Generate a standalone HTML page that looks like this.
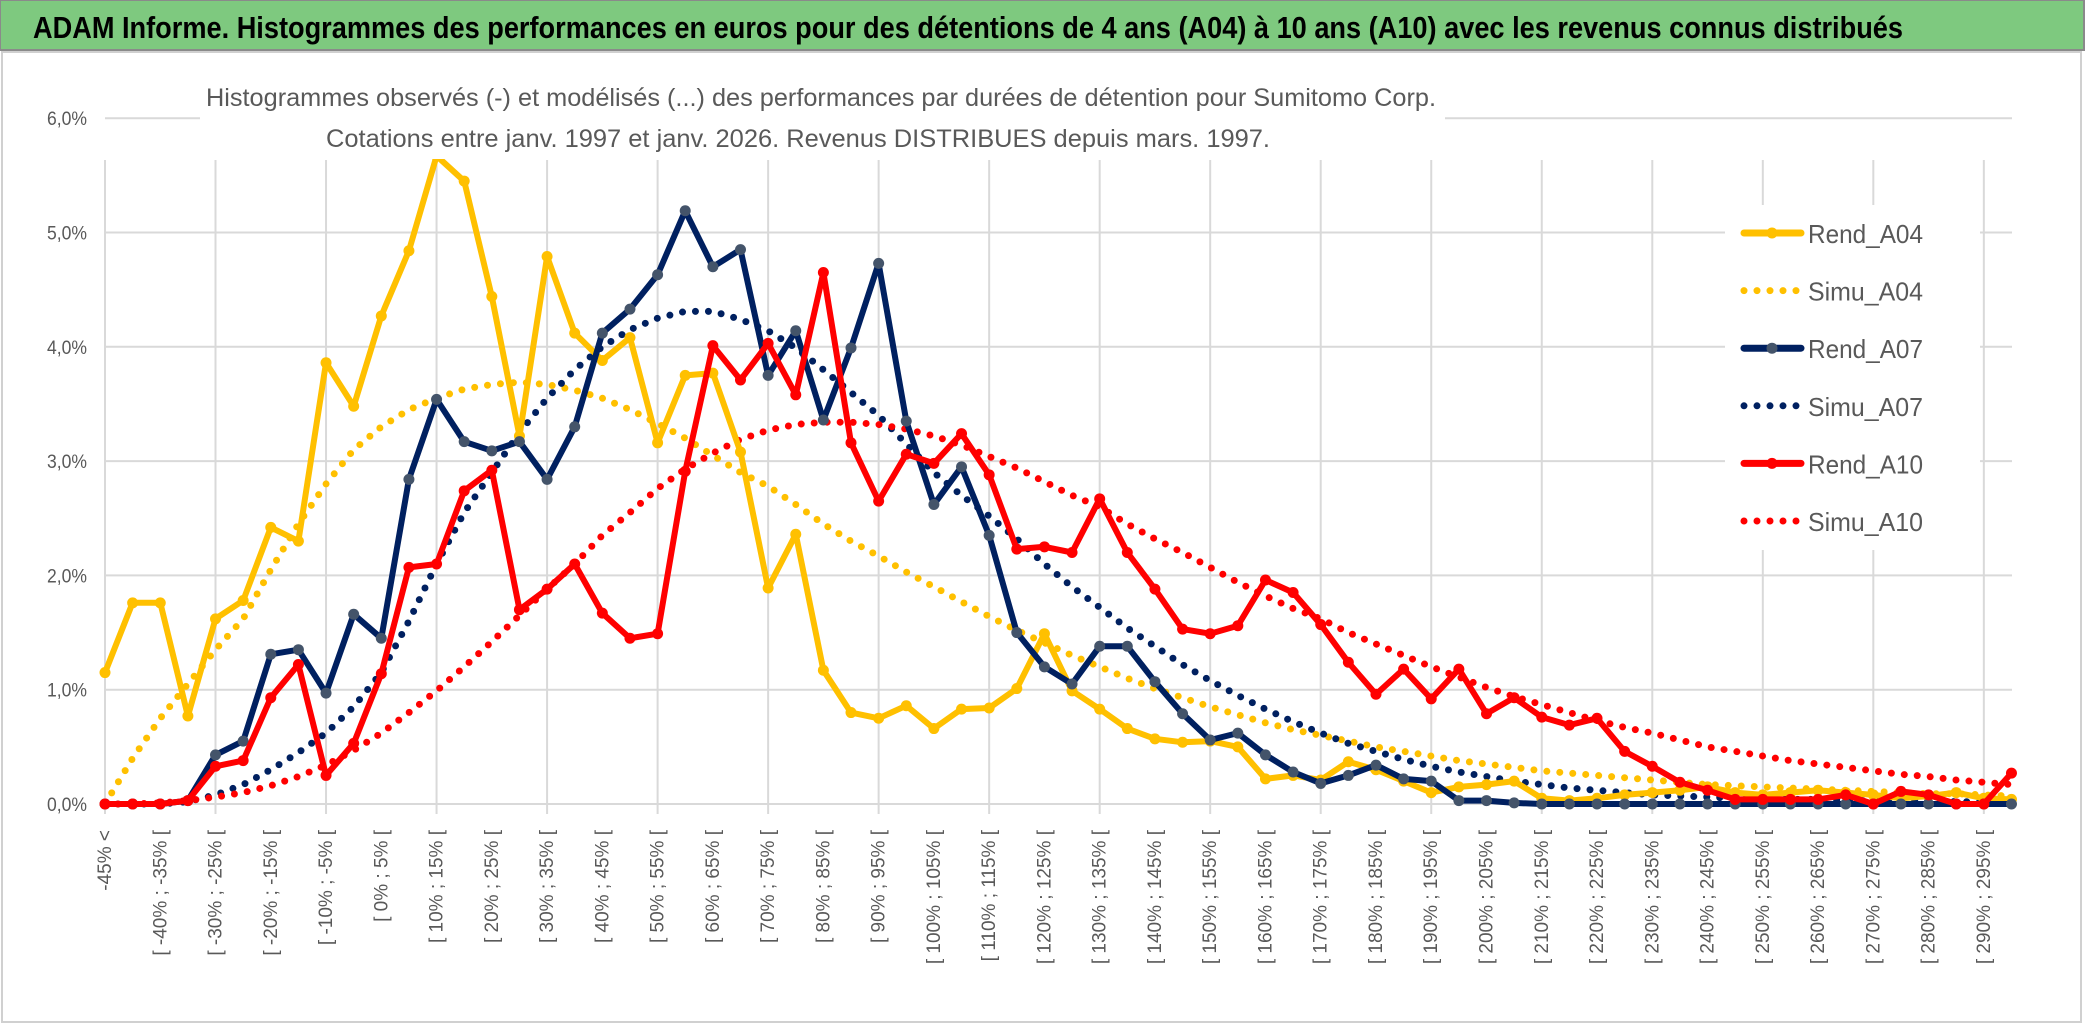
<!DOCTYPE html>
<html><head><meta charset="utf-8"><style>
html,body{margin:0;padding:0;background:#fff;}
svg{display:block;}
text{font-family:"Liberation Sans",sans-serif;}
</style></head><body>
<svg id="chart" width="2086" height="1031" viewBox="0 0 2086 1031" xmlns="http://www.w3.org/2000/svg">
<rect x="0" y="0" width="2086" height="1031" fill="#fff"/>
<rect x="2" y="52" width="2079" height="970" fill="#fff" stroke="#d0d0d0" stroke-width="2"/>
<rect x="0" y="0" width="2084" height="50" fill="#7ec97f" stroke="#8a8a8a" stroke-width="2"/>
<text x="33" y="38" font-size="31" font-weight="bold" fill="#000" textLength="1870" lengthAdjust="spacingAndGlyphs">ADAM Informe. Histogrammes des performances en euros pour des détentions de 4 ans (A04) à 10 ans (A10) avec les revenus connus distribués</text>
<g id="grid"></g>
<g id="series"></g>
<rect x="200" y="75" width="1245" height="84" fill="#fff"/>
<text x="206" y="106" font-size="25" fill="#595959" textLength="1230" lengthAdjust="spacingAndGlyphs">Histogrammes observés (-) et modélisés (...) des performances par durées de détention pour Sumitomo Corp.</text>
<text x="326" y="147" font-size="25" fill="#595959" textLength="944" lengthAdjust="spacingAndGlyphs">Cotations entre janv. 1997 et janv. 2026. Revenus DISTRIBUES depuis mars. 1997.</text>
<g id="legend"></g>
<g id="axes"></g>
</svg>
<script>
const rendA04 = [1.15,1.76,1.76,0.77,1.62,1.78,2.42,2.30,3.86,3.48,4.27,4.84,5.67,5.45,4.44,3.22,4.79,4.12,3.88,4.08,3.16,3.75,3.77,3.08,1.89,2.36,1.17,0.80,0.75,0.86,0.66,0.83,0.84,1.01,1.49,0.99,0.83,0.66,0.57,0.54,0.55,0.50,0.22,0.25,0.21,0.37,0.30,0.20,0.10,0.15,0.17,0.20,0.05,0.03,0.05,0.08,0.10,0.12,0.15,0.10,0.08,0.10,0.12,0.10,0.08,0.05,0.07,0.10,0.05,0.04];
const simuA04 = [0.0,0.40,0.75,1.05,1.35,1.62,2.05,2.45,2.80,3.10,3.30,3.45,3.55,3.63,3.67,3.69,3.67,3.62,3.55,3.45,3.33,3.20,3.05,2.90,2.78,2.62,2.45,2.30,2.17,2.03,1.90,1.77,1.64,1.52,1.41,1.30,1.20,1.10,1.01,0.93,0.85,0.78,0.71,0.65,0.60,0.55,0.50,0.46,0.42,0.38,0.35,0.32,0.29,0.27,0.25,0.23,0.21,0.19,0.17,0.16,0.15,0.14,0.13,0.12,0.11,0.10,0.09,0.09,0.08,0.07];
const rendA07 = [0,0,0,0.03,0.43,0.55,1.31,1.35,0.97,1.66,1.45,2.84,3.54,3.17,3.09,3.17,2.84,3.30,4.12,4.33,4.63,5.19,4.70,4.85,3.75,4.14,3.36,3.99,4.73,3.35,2.62,2.95,2.35,1.50,1.20,1.05,1.38,1.38,1.07,0.79,0.56,0.62,0.43,0.28,0.18,0.25,0.34,0.22,0.20,0.03,0.03,0.01,0,0,0,0,0,0,0,0,0,0,0,0,0,0,0,0,0,0];
const simuA07 = [0,0,0,0.02,0.08,0.17,0.30,0.45,0.62,0.85,1.15,1.60,2.10,2.55,2.90,3.25,3.55,3.80,4.00,4.15,4.25,4.31,4.31,4.24,4.14,3.99,3.80,3.60,3.40,3.15,2.90,2.70,2.52,2.32,2.10,1.90,1.72,1.54,1.38,1.22,1.08,0.95,0.83,0.72,0.62,0.53,0.46,0.39,0.33,0.28,0.24,0.20,0.17,0.14,0.12,0.10,0.08,0.07,0.06,0.05,0.04,0.04,0.04,0.03,0.03,0.03,0.03,0.02,0.02,0.02];
const rendA10 = [0,0,0,0.03,0.33,0.38,0.93,1.22,0.25,0.53,1.14,2.07,2.10,2.74,2.92,1.70,1.88,2.10,1.67,1.45,1.49,2.91,4.01,3.71,4.03,3.58,4.65,3.16,2.65,3.06,2.98,3.24,2.88,2.23,2.25,2.20,2.67,2.20,1.88,1.53,1.49,1.56,1.96,1.85,1.57,1.24,0.96,1.18,0.92,1.18,0.79,0.93,0.76,0.69,0.75,0.46,0.33,0.19,0.12,0.04,0.04,0.04,0.04,0.08,0,0.11,0.08,0,0,0.27];
const simuA10 = [0,0,0.01,0.03,0.06,0.10,0.16,0.24,0.34,0.47,0.62,0.80,0.99,1.20,1.42,1.65,1.88,2.10,2.35,2.55,2.76,2.93,3.07,3.19,3.27,3.32,3.34,3.34,3.32,3.28,3.22,3.14,3.04,2.94,2.82,2.70,2.60,2.45,2.32,2.20,2.07,1.94,1.82,1.71,1.62,1.50,1.40,1.30,1.20,1.11,1.02,0.94,0.87,0.80,0.73,0.67,0.62,0.56,0.50,0.46,0.42,0.38,0.35,0.32,0.29,0.26,0.24,0.21,0.19,0.17];
const yTicks = [0,1,2,3,4,5,6];
const yTickLabels = ["0,0%","1,0%","2,0%","3,0%","4,0%","5,0%","6,0%"];
const binLows = [];
for (let v = -45; v <= 295; v += 5) binLows.push(v);
const categories = ["-45% <"];
for (let i = 1; i < binLows.length; i++) categories.push("[ " + binLows[i-1] + "% ; " + binLows[i] + "% [");
categories.push("295% ≤");

const NS = "http://www.w3.org/2000/svg";
const X0 = 105, DX = 27.63, Y0 = 804, DY = 114.3;
const xPos = i => X0 + i * DX;
const yPos = v => Y0 - v * DY;
function mk(tag, attrs, parent) {
  const e = document.createElementNS(NS, tag);
  for (const k in attrs) e.setAttribute(k, attrs[k]);
  parent.appendChild(e);
  return e;
}
const grid = document.getElementById("grid");
const axes = document.getElementById("axes");
const series = document.getElementById("series");
const legend = document.getElementById("legend");

yTicks.forEach((t, i) => {
  const l = mk("line", {x1: X0, x2: 2012, y1: yPos(t), y2: yPos(t), stroke: "#d9d9d9", "stroke-width": 2}, grid);
  
  
  const tx = mk("text", {x: 87, y: yPos(t) + 7, "font-size": 19, fill: "#595959", "text-anchor": "end", textLength: 40, lengthAdjust: "spacingAndGlyphs"}, axes);
  tx.textContent = yTickLabels[i];
  
  
});
for (let i = 0; i < categories.length; i += 4) {
  const l = mk("line", {x1: xPos(i), x2: xPos(i), y1: 160, y2: 814, stroke: "#d9d9d9", "stroke-width": 2}, grid);
  
  
}
for (let i = 0; i < categories.length; i += 2) {
  const cx = xPos(i) + 6, cy = 830;
  const tx = mk("text", {x: cx, y: cy, "font-size": 19, fill: "#595959", "text-anchor": "end", transform: "rotate(-90 " + cx + " " + cy + ")"}, axes);
  tx.textContent = categories[i];
  
  
}

function pts(arr) { return arr.map((v, i) => xPos(i).toFixed(1) + "," + yPos(v).toFixed(1)).join(" "); }
function dotted(arr, color, name) {
  const p = mk("polyline", {points: pts(arr), fill: "none", stroke: color, "stroke-width": 7, "stroke-linecap": "round", "stroke-dasharray": "0 13"}, series);
  
  
}
function solid(arr, color, marker, name) {
  const p = mk("polyline", {points: pts(arr), fill: "none", stroke: color, "stroke-width": 6, "stroke-linejoin": "round"}, series);
  
  
  arr.forEach((v, i) => {
    const c = mk("circle", {cx: xPos(i), cy: yPos(v), r: 5.5, fill: marker}, series);
    
    
  });
}
dotted(simuA04, "#ffc000", "simu-a04-line");
dotted(simuA07, "#002060", "simu-a07-line");
dotted(simuA10, "#ff0000", "simu-a10-line");
solid(rendA04, "#ffc000", "#ffc000", "rend-a04-line");
solid(rendA07, "#002060", "#44546a", "rend-a07-line");
solid(rendA10, "#ff0000", "#ff0000", "rend-a10-line");

const bg = mk("rect", {x: 1725, y: 205, width: 255, height: 345, fill: "#fff"}, legend);


const legendItems = [["Rend_A04", "#ffc000", "#ffc000", false], ["Simu_A04", "#ffc000", null, true], ["Rend_A07", "#002060", "#44546a", false], ["Simu_A07", "#002060", null, true], ["Rend_A10", "#ff0000", "#ff0000", false], ["Simu_A10", "#ff0000", null, true]];
legendItems.forEach((it, k) => {
  const y = 233 + k * 57.6;
  if (it[3]) {
    const l = mk("line", {x1: 1744, x2: 1800, y1: y, y2: y, stroke: it[1], "stroke-width": 7, "stroke-linecap": "round", "stroke-dasharray": "0 13"}, legend);
    
    
  } else {
    const l = mk("line", {x1: 1744, x2: 1801, y1: y, y2: y, stroke: it[1], "stroke-width": 7, "stroke-linecap": "round"}, legend);
    
    
    const c = mk("circle", {cx: 1772, cy: y, r: 5.5, fill: it[2]}, legend);
    
    
  }
  const t = mk("text", {x: 1808, y: y + 10, "font-size": 26, fill: "#595959", textLength: 115, lengthAdjust: "spacingAndGlyphs"}, legend);
  t.textContent = it[0];
  
  
});
</script>
</body></html>
